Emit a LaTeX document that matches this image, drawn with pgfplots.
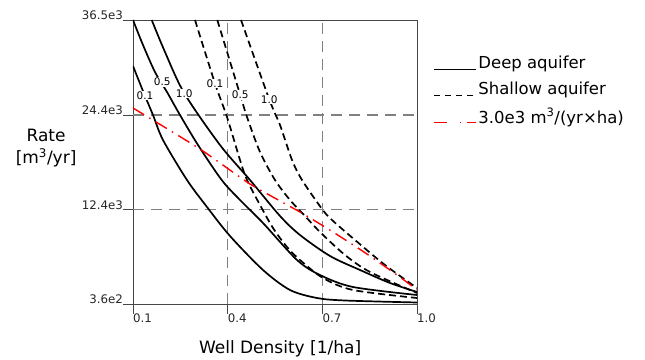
\documentclass[border=0pt]{standalone}
\usepackage{fontspec}
\setmainfont{DejaVu Sans}
\usepackage{pgfplots}
\pgfplotsset{compat=1.18}
\definecolor{gridgray}{RGB}{128,128,128}
\definecolor{axgray}{RGB}{70,70,70}
\begin{document}
\begin{tikzpicture}
\begin{axis}[
  width=284pt, height=284pt, scale only axis,
  xmin=0.1, xmax=1.0, ymin=360, ymax=36500,
  scaled x ticks=false, scaled y ticks=false,
  tick pos=left,
  xtick={0.1,0.4,0.7,1.0}, xticklabels={0.1,0.4,0.7,1.0},
  ytick={360,12400,24400,36500}, yticklabels={3.6e2,12.4e3,24.4e3,36.5e3},
  extra x ticks={0.4,0.7}, extra x tick labels={},
  extra y ticks={12400,24400}, extra y tick labels={},
  extra tick style={grid=major, major tick style={draw=none}},
  tick align=outside, major tick length=10pt,
  tick style={axgray, line width=0.8pt},
  axis line style={axgray, line width=0.9pt},
  grid style={gridgray, line width=1.3pt, dash pattern=on 11pt off 7pt},
  ticklabel style={font=\fontsize{11.8}{13}\selectfont, text=black!85},
  xticklabel style={anchor=north west, inner sep=0pt},
  yticklabel style={anchor=south east, inner sep=0pt},
  ylabel={Rate\\{[m\textsuperscript{3}/yr]}},
  ylabel style={rotate=-90, align=center, font=\fontsize{17}{22}\selectfont,
    at={(axis description cs:-0.306,0.549)}, anchor=center},
  xlabel={Well Density [1/ha]},
  xlabel style={font=\fontsize{17}{20}\selectfont,
    at={(axis description cs:0.518,-0.157)}, anchor=center},
  legend style={at={(axis description cs:1.056,0.880)}, anchor=north west,
    draw=none, fill=none, font=\fontsize{16.5}{18}\selectfont,
    inner sep=0pt, row sep=8pt, cells={anchor=west}},
  legend image code/.code={\draw[#1] (0pt,-6pt) -- (42pt,-6pt);},
  every axis plot/.append style={line width=1.7pt},
]
\addlegendimage{draw=black, line width=1.2pt}
\addlegendentry{Deep aquifer}
\addlegendimage{draw=black, line width=1.2pt, dash pattern=on 6pt off 5pt}
\addlegendentry{Shallow aquifer}
\addlegendimage{draw=red, color=red, line width=1.3pt, dash pattern=on 13pt off 13pt on 1.5pt off 6pt}
\addlegendentry{3.0e3 m\textsuperscript{3}/(yr×ha)}
% Deep aquifer 0.1
\addplot[black, smooth, tension=0.5, forget plot] coordinates {
(0.1000,30645) (0.1374,26892) (0.1634,24410) (0.1951,21229) (0.2711,16139)
(0.3345,12703) (0.4074,9013) (0.5120,4687) (0.5975,2142) (0.6831,1124)
(0.7718,805) (1.0,551)};
% Deep 0.5
\addplot[black, smooth, tension=0.5, forget plot] coordinates {
(0.1000,36500) (0.1317,33318) (0.1697,29882) (0.2077,27337) (0.2489,24410)
(0.3060,20593) (0.3811,16139) (0.4391,13594) (0.5120,10667) (0.6197,5959)
(0.6926,4050) (0.7972,2523) (1.0,1505)};
% Deep 1.0
\addplot[black, smooth, tension=0.5, forget plot] coordinates {
(0.1593,36500) (0.2014,32427) (0.2626,27172) (0.3757,20593) (0.4708,16139)
(0.5659,11558) (0.6292,9140) (0.7243,6468) (0.8194,4687) (0.9144,3032) (1.0,1887)};
% Shallow 0.1
\addplot[black, smooth, tension=0.5, dash pattern=on 7pt off 4pt, forget plot] coordinates {
(0.2965,36500) (0.3599,28419) (0.3979,24156) (0.4391,18684) (0.4613,16139)
(0.5025,12958) (0.5437,10031) (0.5880,7613) (0.6292,5959) (0.7021,3669)
(0.7972,2142) (1.0,1124)};
% Shallow 0.5
\addplot[black, smooth, tension=0.5, dash pattern=on 7pt off 4pt, forget plot] coordinates {
(0.3672,36500) (0.4398,26955) (0.4613,24156) (0.5025,19702) (0.5500,16139)
(0.5975,13594) (0.6451,11558) (0.6926,9522) (0.7718,6595) (0.8511,4432) (1.0,1760)};
% Shallow 1.0
\addplot[black, smooth, tension=0.5, dash pattern=on 7pt off 4pt, forget plot] coordinates {
(0.4423,36500) (0.5320,26383) (0.5659,23138) (0.6039,18684) (0.6356,16139)
(0.6990,12449) (0.7306,11049) (0.8035,8504) (0.8986,5323) (1.0,2396)};
% 3.0e3 reference line
\addplot[red, line width=1.4pt, smooth, tension=0.3, dash pattern=on 13pt off 6pt on 1.5pt off 6pt, forget plot] coordinates {
(0.1000,25301) (0.3123,20084) (0.4708,15630) (0.6292,12067) (0.7338,9522)
(0.8415,6723) (0.9458,3796) (1.0,2142)};
% curve labels
\begin{scope}[every node/.style={fill=white, inner sep=0.6pt, font=\fontsize{10.5}{11}\selectfont}]
\node at (axis cs:0.1380,26892) {0.1};
\node at (axis cs:0.1929,28610) {0.5};
\node at (axis cs:0.2626,27172) {1.0};
\node at (axis cs:0.3599,28419) {0.1};
\node at (axis cs:0.4398,26955) {0.5};
\node at (axis cs:0.5320,26383) {1.0};
\end{scope}
\coordinate (bbl) at (rel axis cs:-0.4683,-0.1937);
\coordinate (btr) at (rel axis cs:1.8028,1.0704);
\end{axis}
\pgfresetboundingbox
\path (bbl) rectangle (btr);
\end{tikzpicture}
\end{document}
